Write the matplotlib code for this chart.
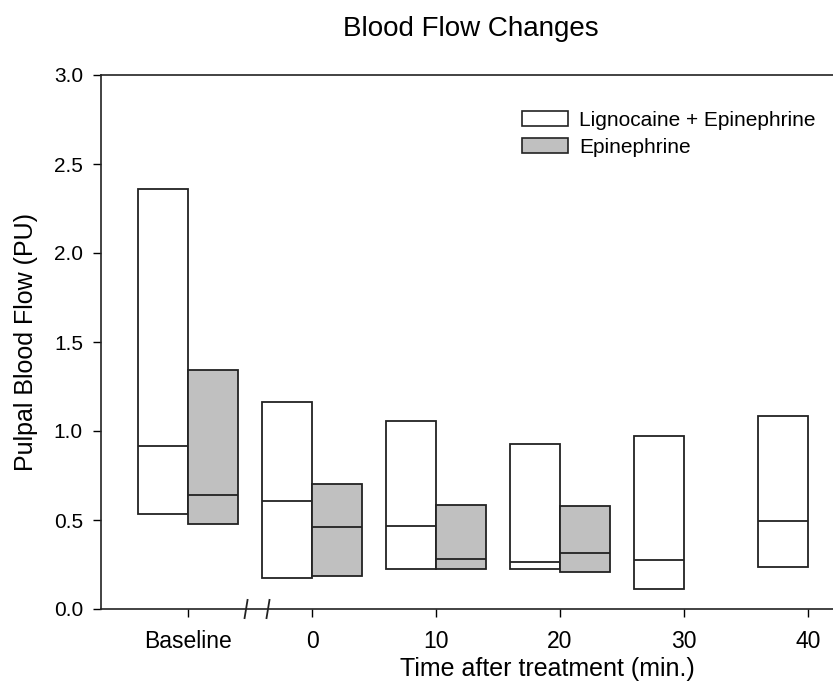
import matplotlib
matplotlib.use("Agg")
import matplotlib.pyplot as plt
import matplotlib.transforms as mtransforms
from matplotlib.patches import Patch

# Box values (25th percentile, median, 75th percentile)
timepoints = ["Baseline", "0", "10", "20", "30", "40"]
ligno_q1 = [0.535, 0.174, 0.225, 0.225, 0.114, 0.234]
ligno_med = [0.916, 0.607, 0.464, 0.264, 0.275, 0.494]
ligno_q3 = [2.36, 1.165, 1.056, 0.925, 0.974, 1.086]

epi_q1 = [0.48, 0.184, 0.223, 0.206]
epi_med = [0.64, 0.46, 0.281, 0.315]
epi_q3 = [1.343, 0.70, 0.585, 0.579]

plt.rcParams['font.family'] = ['Liberation Sans', 'DejaVu Sans']

fig = plt.figure(figsize=(8.33, 6.89), dpi=100)
ax = fig.add_axes([101 / 833, 1 - 609 / 689, 1 - 101 / 833, (609 - 75) / 689])

pos = list(range(len(timepoints)))
epi_pos = pos[:len(epi_q1)]
w = 0.4
lw = 1.3
edge = '#222222'

# white boxes sit left of each tick, grey boxes right of it
for i in pos:
    ax.bar(i - w, ligno_q3[i] - ligno_q1[i], bottom=ligno_q1[i], width=w, align='edge',
           color='white', edgecolor=edge, linewidth=lw, zorder=3)
    ax.hlines(ligno_med[i], i - w, i, color=edge, linewidth=lw, zorder=4)
for i in epi_pos:
    ax.bar(i, epi_q3[i] - epi_q1[i], bottom=epi_q1[i], width=w, align='edge',
           color='#c0c0c0', edgecolor=edge, linewidth=lw, zorder=3)
    ax.hlines(epi_med[i], i, i + w, color=edge, linewidth=lw, zorder=4)

ax.set_xlim(-0.702, 5.202)
ax.set_ylim(0, 3.0)
ax.set_yticks([0, 0.5, 1.0, 1.5, 2.0, 2.5, 3.0])
ax.set_yticklabels(['0.0', '0.5', '1.0', '1.5', '2.0', '2.5', '3.0'], fontsize=15)
ax.set_xticks(pos)
ax.set_xticklabels(timepoints, fontsize=16.5)
ax.tick_params(axis='x', direction='out', length=6, width=1.0, pad=9)
ax.tick_params(axis='y', direction='out', length=6, width=1.0, pad=7)
ax.spines['right'].set_visible(False)
for s in ['left', 'top', 'bottom']:
    ax.spines[s].set_linewidth(1.2)
    ax.spines[s].set_color(edge)

# axis break marks between Baseline and 0
trans = mtransforms.blended_transform_factory(ax.transData, ax.transAxes)
for xb in [0.468, 0.645]:
    ax.plot([xb - 0.012, xb + 0.012], [-0.017, 0.017], color=edge, lw=1.3,
            transform=trans, clip_on=False)

ax.set_xlabel("Time after treatment (min.)", fontsize=18)
ax.xaxis.set_label_coords((547 - 101) / 732, -0.09)
ax.set_ylabel("Pulpal Blood Flow (PU)", fontsize=18)
ax.yaxis.set_label_coords(-0.086, 0.5)

fig.text(471 / 833, 1 - 29 / 689, "Blood Flow Changes", fontsize=20, ha='center', va='center')

handles = [Patch(facecolor='white', edgecolor=edge, linewidth=1.2, label='Lignocaine + Epinephrine'),
           Patch(facecolor='#c0c0c0', edgecolor=edge, linewidth=1.2, label='Epinephrine')]
ax.legend(handles=handles, loc='upper left', bbox_to_anchor=(522 / 833, 1 - 111 / 689),
          bbox_transform=fig.transFigure, frameon=False, fontsize=15, borderpad=0,
          borderaxespad=0, handlelength=2.2, handleheight=0.72, handletextpad=0.55,
          labelspacing=0.38)

fig.savefig("out.png", dpi=100)
